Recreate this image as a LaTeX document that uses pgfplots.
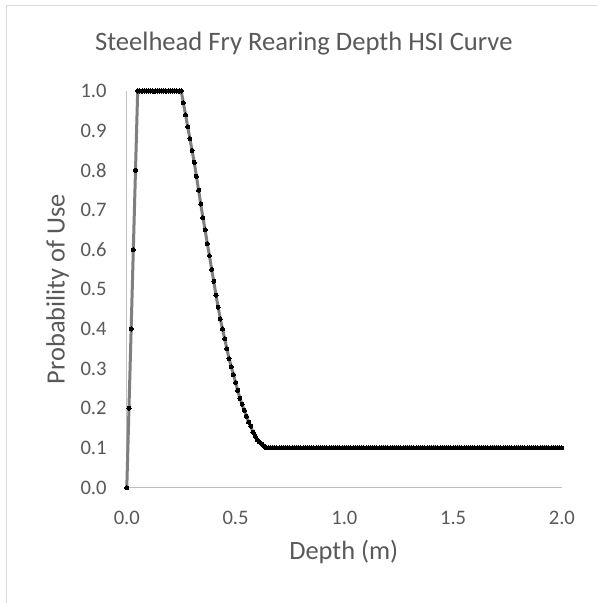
\documentclass[border=0pt]{standalone}
\usepackage{pgfplots}
\pgfplotsset{compat=1.18}
\usepackage{fontspec}
\setmainfont{Carlito}
\definecolor{txtgray}{HTML}{595959}
\definecolor{axgray}{HTML}{BFBFBF}
\definecolor{lngray}{HTML}{7F7F7F}
\definecolor{bordergray}{HTML}{D9D9D9}
\begin{document}
\begin{tikzpicture}
\useasboundingbox (-126.8pt,-115.4pt) rectangle (470.2pt,487.6pt);
\fill[white] (-126.8pt,-115.4pt) rectangle (470.2pt,487.6pt);
\draw[bordergray, line width=1pt] (-119.9pt,-140pt) -- (-119.9pt,481.9pt) -- (500pt,481.9pt);
\begin{axis}[
  at={(0pt,0pt)}, anchor=south west,
  scale only axis, width=435.1pt, height=396.6pt,
  xmin=0, xmax=2, ymin=0, ymax=1,
  axis lines=left,
  axis line style={-, draw=axgray, line width=1.2pt},
  xtick={0,0.5,1,1.5,2},
  ytick={0,0.1,0.2,0.3,0.4,0.5,0.6,0.7,0.8,0.9,1},
  major tick length=0pt,
  clip=false,
  /pgf/number format/assume math mode=true,
  xticklabel={\pgfmathprintnumber[fixed,precision=1,zerofill]{\tick}},
  yticklabel={\pgfmathprintnumber[fixed,precision=1,zerofill]{\tick}},
  tick label style={font=\fontsize{20.6pt}{24pt}\selectfont, text=txtgray},
  xticklabel style={anchor=north, inner sep=0pt, yshift=-23.4pt},
  yticklabel style={anchor=east, inner sep=0pt, xshift=-20pt},
]
\addplot[lngray, line width=3pt, mark=*, mark size=2.05pt, mark options={draw=black, fill=black, line width=0pt}] coordinates {
(0,0)(0.01,0.2)(0.02,0.4)(0.03,0.6)(0.04,0.8)(0.05,1)
(0.06,1)(0.07,1)(0.08,1)(0.09,1)(0.10,1)(0.11,1)(0.12,1)(0.13,1)(0.14,1)(0.15,1)
(0.16,1)(0.17,1)(0.18,1)(0.19,1)(0.20,1)(0.21,1)(0.22,1)(0.23,1)(0.24,1)(0.25,1)
(0.26,0.97)(0.27,0.94)(0.28,0.91)(0.29,0.88)(0.30,0.85)(0.31,0.82)(0.32,0.785)(0.33,0.75)(0.34,0.715)(0.35,0.68)
(0.36,0.65)(0.37,0.615)(0.38,0.585)(0.39,0.55)(0.40,0.52)(0.41,0.485)(0.42,0.455)(0.43,0.425)(0.44,0.40)(0.45,0.375)
(0.46,0.35)(0.47,0.325)(0.48,0.305)(0.49,0.285)(0.50,0.265)(0.51,0.245)(0.52,0.225)(0.53,0.21)(0.54,0.195)(0.55,0.18)
(0.56,0.165)(0.57,0.155)(0.58,0.14)(0.59,0.13)(0.60,0.12)(0.61,0.115)(0.62,0.11)(0.63,0.105)(0.64,0.1)(0.65,0.1)
(0.66,0.1)(0.67,0.1)(0.68,0.1)(0.69,0.1)(0.70,0.1)(0.71,0.1)(0.72,0.1)(0.73,0.1)(0.74,0.1)(0.75,0.1)
(0.76,0.1)(0.77,0.1)(0.78,0.1)(0.79,0.1)(0.80,0.1)(0.81,0.1)(0.82,0.1)(0.83,0.1)(0.84,0.1)(0.85,0.1)
(0.86,0.1)(0.87,0.1)(0.88,0.1)(0.89,0.1)(0.90,0.1)(0.91,0.1)(0.92,0.1)(0.93,0.1)(0.94,0.1)(0.95,0.1)
(0.96,0.1)(0.97,0.1)(0.98,0.1)(0.99,0.1)(1.00,0.1)(1.01,0.1)(1.02,0.1)(1.03,0.1)(1.04,0.1)(1.05,0.1)
(1.06,0.1)(1.07,0.1)(1.08,0.1)(1.09,0.1)(1.10,0.1)(1.11,0.1)(1.12,0.1)(1.13,0.1)(1.14,0.1)(1.15,0.1)
(1.16,0.1)(1.17,0.1)(1.18,0.1)(1.19,0.1)(1.20,0.1)(1.21,0.1)(1.22,0.1)(1.23,0.1)(1.24,0.1)(1.25,0.1)
(1.26,0.1)(1.27,0.1)(1.28,0.1)(1.29,0.1)(1.30,0.1)(1.31,0.1)(1.32,0.1)(1.33,0.1)(1.34,0.1)(1.35,0.1)
(1.36,0.1)(1.37,0.1)(1.38,0.1)(1.39,0.1)(1.40,0.1)(1.41,0.1)(1.42,0.1)(1.43,0.1)(1.44,0.1)(1.45,0.1)
(1.46,0.1)(1.47,0.1)(1.48,0.1)(1.49,0.1)(1.50,0.1)(1.51,0.1)(1.52,0.1)(1.53,0.1)(1.54,0.1)(1.55,0.1)
(1.56,0.1)(1.57,0.1)(1.58,0.1)(1.59,0.1)(1.60,0.1)(1.61,0.1)(1.62,0.1)(1.63,0.1)(1.64,0.1)(1.65,0.1)
(1.66,0.1)(1.67,0.1)(1.68,0.1)(1.69,0.1)(1.70,0.1)(1.71,0.1)(1.72,0.1)(1.73,0.1)(1.74,0.1)(1.75,0.1)
(1.76,0.1)(1.77,0.1)(1.78,0.1)(1.79,0.1)(1.80,0.1)(1.81,0.1)(1.82,0.1)(1.83,0.1)(1.84,0.1)(1.85,0.1)
(1.86,0.1)(1.87,0.1)(1.88,0.1)(1.89,0.1)(1.90,0.1)(1.91,0.1)(1.92,0.1)(1.93,0.1)(1.94,0.1)(1.95,0.1)
(1.96,0.1)(1.97,0.1)(1.98,0.1)(1.99,0.1)(2.00,0.1)
};
\end{axis}
\node[anchor=base, text=txtgray, font=\fontsize{26.6pt}{31pt}\selectfont, inner sep=0pt] at (177pt,437pt) {Steelhead Fry Rearing Depth HSI Curve};
\node[anchor=base, text=txtgray, font=\fontsize{26.4pt}{31pt}\selectfont, inner sep=0pt] at (217pt,-72pt) {Depth (m)};
\node[anchor=base, rotate=90, text=txtgray, font=\fontsize{26.4pt}{31pt}\selectfont, inner sep=0pt] at (-62.1pt,198.5pt) {Probability of Use};
\end{tikzpicture}
\end{document}
